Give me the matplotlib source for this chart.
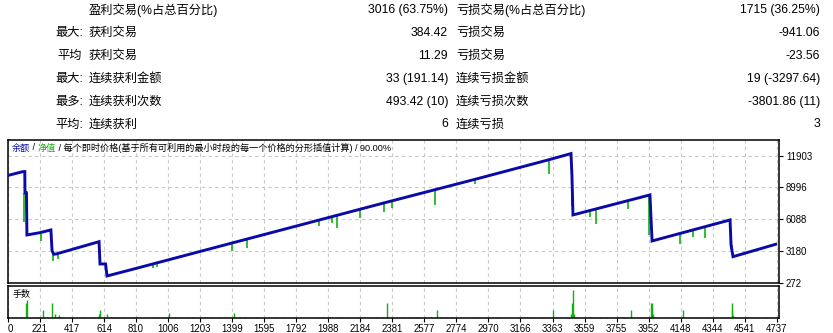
import matplotlib
matplotlib.use("Agg")
import matplotlib.pyplot as plt

plt.rcParams['font.family'] = ['Liberation Sans', 'Noto Sans CJK SC', 'DejaVu Sans']

# 统计表
row_prefix = ["", "最大:", "平均", "最大:", "最多:", "平均:"]
win_labels = ["盈利交易(%占总百分比)", "获利交易", "获利交易", "连续获利金额", "连续获利次数", "连续获利"]
win_values = ["3016 (63.75%)", "384.42", "11.29", "33 (191.14)", "493.42 (10)", "6"]
loss_labels = ["亏损交易(%占总百分比)", "亏损交易", "亏损交易", "连续亏损金额", "连续亏损次数", "连续亏损"]
loss_values = ["1715 (36.25%)", "-941.06", "-23.56", "19 (-3297.64)", "-3801.86 (11)", "3"]

# 余额曲线 (交易序号, 余额)
bal_trade = [0, 117, 128, 129, 138, 141, 221, 288, 295, 305, 320, 583, 589, 623, 632,
             773, 1398, 1931, 2330, 2888, 3341, 3476, 3482, 3488, 3629, 3960, 3966,
             3973, 4451, 4457, 4469, 4731]
bal_value = [10000, 10445, 10445, 8498, 8498, 4659, 4870, 5116, 3224, 2900, 2920, 4047,
             2009, 2009, 912, 1460, 3923, 6017, 7586, 9740, 11530, 12090, 9988, 6487,
             7033, 8315, 6332, 4111, 6030, 3745, 2676, 3809]

# 净值回撤
eq_trade = [126, 227, 299, 329, 589, 914, 938, 1398, 1490, 1931, 2011, 2042, 2183, 2330,
            2379, 2642, 2888, 3341, 3480, 3593, 3629, 3825, 3956, 4144, 4224, 4298, 4461]
eq_top = [8498, 4890, 3224, 2930, 2680, 2020, 2083, 3923, 4284, 6017, 6331, 6453, 7007,
          7586, 7779, 8813, 9740, 11530, 9988, 6894, 7033, 7792, 8315, 4798, 5119, 5416, 3745]
eq_low = [5847, 4065, 2310, 2438, 2073, 1616, 1734, 3224, 3500, 5509, 5756, 5272, 6240,
          6789, 7127, 7401, 9321, 10207, 7310, 6304, 5637, 7036, 4659, 3837, 4504, 4412, 3133]

# 手数
lot_trade = [133, 143, 241, 296, 313, 337, 583, 589, 632, 1012, 1410, 2348, 2655, 3364,
             3474, 3480, 3485, 3490, 3494, 3844, 3965, 3970, 3975, 3979, 4161, 4460, 4465, 4472]
lot_size = [1.13, 1.35, 0.62, 1.13, 0.32, 0.2, 0.32, 0.62, 0.32, 0.37, 0.37, 1.13, 0.62, 0.62,
            0.32, 1.13, 0.32, 2.1, 0.32, 0.62, 1.13, 0.32, 1.13, 0.32, 0.62, 0.62, 1.13, 0.2]
small_lot_trade = [103, 203, 354, 485, 552, 570, 650, 668, 693, 730, 791, 816, 914, 944, 975,
                   1049, 1079, 1122, 1159, 1232, 1275, 1324, 1386, 1447, 1478, 1508, 1551,
                   1662, 1711, 1772, 1925, 1956, 1999, 2042, 2072, 2109, 2164, 2201, 2244,
                   2287, 2324, 2446, 2489, 2507, 2532, 2550, 2581, 2618, 2691, 2716, 2747,
                   2888, 2906, 3016, 3182, 3206, 3225, 3305, 3330, 3452, 3593, 3617, 3654,
                   3697, 3758, 3795, 3899, 3918, 4126, 4163, 4206, 4249, 4310, 4408, 4439,
                   4482, 4512, 4555, 4616, 4678]
small_lot = 0.08

x_ticks = [0, 221, 417, 614, 810, 1006, 1203, 1399, 1595, 1792, 1988, 2184, 2381, 2577,
           2774, 2970, 3166, 3363, 3559, 3755, 3952, 4148, 4344, 4541, 4737]
y_ticks = [272, 3180, 6088, 8996, 11903]

BLUE = '#0a0aa8'
GREEN = '#10b010'
GRID = '#c8c8c8'
W, H = 833, 333

fig = plt.figure(figsize=(W / 100, H / 100), dpi=100)
fig.patch.set_facecolor('white')


def fx(x):
    return x / W


def fy(y):
    return 1 - y / H


# 统计表文字
fs = 8.8
for i in range(6):
    y = fy(10 + i * 22.9)
    fig.text(fx(69.5), y, row_prefix[i], ha='center', va='center', fontsize=fs)
    fig.text(fx(89), y, win_labels[i], ha='left', va='center', fontsize=fs)
    fig.text(fx(448), y, win_values[i], ha='right', va='center', fontsize=fs)
    fig.text(fx(456), y, loss_labels[i], ha='left', va='center', fontsize=fs)
    fig.text(fx(820), y, loss_values[i], ha='right', va='center', fontsize=fs)

xlim = (25, 4751)
tick_pos = [max(t, xlim[0]) for t in x_ticks]

ax = fig.add_axes([fx(8), fy(283), fx(771), 143 / H])
axv = fig.add_axes([fx(8), fy(318), fx(771), 32.3 / H])

for a in (ax, axv):
    a.set_xlim(*xlim)
    a.set_xticks(tick_pos)
    a.grid(True, axis='x', color=GRID, linestyle=(0, (3, 3)), linewidth=0.8)
    for s in a.spines.values():
        s.set_linewidth(1.1)
        s.set_color('black')
    a.set_axisbelow(True)

ax.set_ylim(272, 13330)
ax.set_yticks(y_ticks)
ax.set_yticklabels([str(v) for v in y_ticks])
ax.yaxis.tick_right()
ax.grid(True, axis='y', color=GRID, linestyle=(0, (3, 3)), linewidth=0.8)
ax.tick_params(axis='y', length=3, width=0.8, pad=2, labelsize=6.9)
ax.tick_params(axis='x', length=0, labelbottom=False)

ax.vlines(eq_trade, eq_low, eq_top, color=GREEN, linewidth=1.2, zorder=2)
ax.plot(bal_trade, bal_value, color=BLUE, linewidth=2.1, zorder=3,
        solid_joinstyle='miter')

axv.set_ylim(0, 2.4)
axv.set_yticks([])
axv.vlines(lot_trade, 0, lot_size, color=GREEN, linewidth=1.0)
axv.vlines(small_lot_trade, 0, small_lot, color=GREEN, linewidth=1.0)
axv.set_xticklabels([str(t) for t in x_ticks])
axv.tick_params(axis='x', length=3, width=0.8, pad=1, labelsize=6.9)
axv.get_xticklabels()[0].set_ha('left')

axv.text(0.006, 0.72, "手数", transform=axv.transAxes,
         ha='left', va='center', fontsize=6.5)

# 图表标题 (分段着色)
renderer = fig.canvas.get_renderer()
parts = [("余额", BLUE), (" / ", 'black'), ("净值", GREEN),
         (" / 每个即时价格(基于所有可利用的最小时段的每一个价格的分形插值计算) / 90.00%", 'black')]
xpos = 12
for txt, col in parts:
    t = fig.text(fx(xpos), fy(148), txt, ha='left', va='center', fontsize=6.6, color=col)
    bb = t.get_window_extent(renderer)
    xpos = bb.x1

fig.savefig("out.png", dpi=100, facecolor='white')
